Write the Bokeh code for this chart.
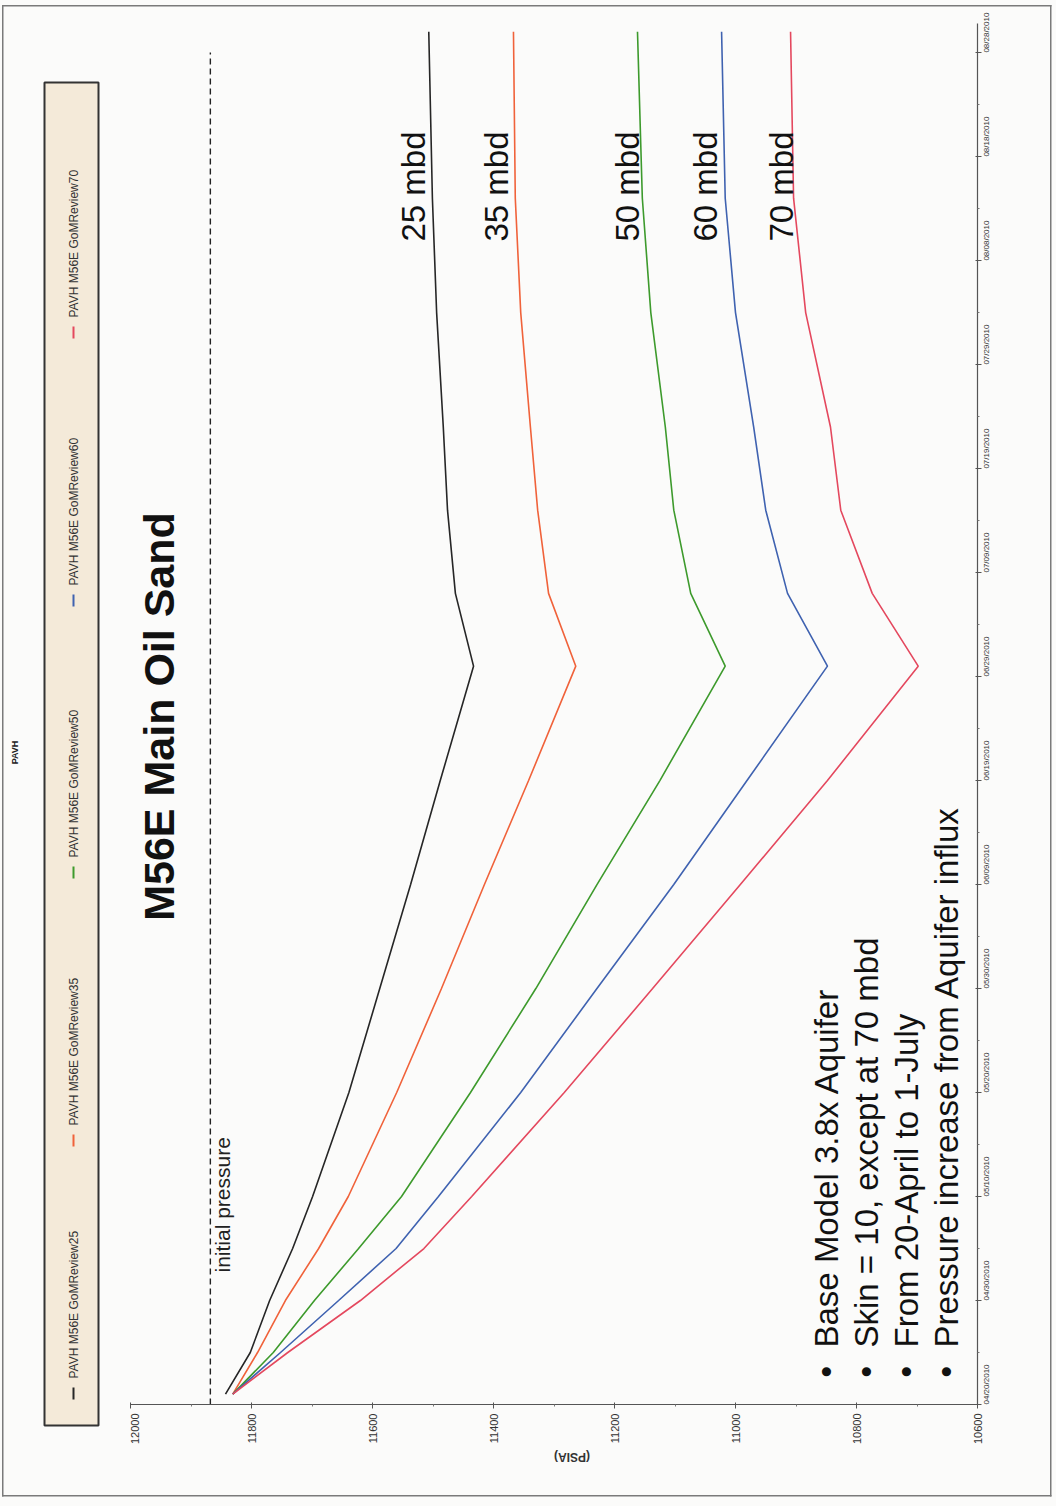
from math import pi
from datetime import datetime
import pandas as pd
from bokeh.plotting import figure
from bokeh.layouts import row
from bokeh.models import (Range1d, FixedTicker, DatetimeTickFormatter, Label)
from bokeh.embed import file_html
from bokeh.resources import INLINE

# ---------------- data ----------------
dates = ["2010-04-21", "2010-04-25", "2010-04-30", "2010-05-05", "2010-05-10",
         "2010-05-20", "2010-05-30", "2010-06-09", "2010-06-19", "2010-06-30",
         "2010-07-07", "2010-07-15", "2010-07-23", "2010-08-03", "2010-08-14",
         "2010-08-30"]
p25 = [11843, 11802, 11770, 11732, 11699, 11639, 11588, 11537, 11488, 11433,
       11463, 11476, 11483, 11494, 11501, 11507]
p35 = [11831, 11790, 11744, 11689, 11640, 11560, 11486, 11415, 11342, 11264,
       11309, 11327, 11339, 11355, 11364, 11367]
p50 = [11831, 11764, 11696, 11623, 11552, 11438, 11330, 11229, 11125, 11017,
       11074, 11102, 11116, 11140, 11154, 11162]
p60 = [11831, 11752, 11656, 11561, 11491, 11355, 11229, 11102, 10981, 10848,
       10914, 10950, 10970, 11000, 11017, 11023]
p70 = [11831, 11740, 11620, 11515, 11436, 11283, 11137, 10992, 10848, 10698,
       10774, 10826, 10843, 10884, 10904, 10909]
series_names = ["PAVH M56E GoMReview25", "PAVH M56E GoMReview35",
                "PAVH M56E GoMReview50", "PAVH M56E GoMReview60",
                "PAVH M56E GoMReview70"]
rate_labels = ["25 mbd", "35 mbd", "50 mbd", "60 mbd", "70 mbd"]
colors = ["#262626", "#f0623a", "#3d9a2c", "#3f62b0", "#e4485e"]

initial_pressure = 11868
initial_dates = ["2010-04-20", "2010-08-28"]

pressure_ticks = [12000, 11800, 11600, 11400, 11200, 11000, 10800, 10600]
pressure_minor = [11900, 11700, 11500, 11300, 11100, 10900, 10700]
date_tick_labels = ["04/20/2010", "04/30/2010", "05/10/2010", "05/20/2010",
                    "05/30/2010", "06/09/2010", "06/19/2010", "06/29/2010",
                    "07/09/2010", "07/19/2010", "07/29/2010", "08/08/2010",
                    "08/18/2010", "08/28/2010"]

bullets = ["Base Model 3.8x Aquifer", "Skin = 10, except at 70 mbd",
           "From 20-April to 1-July", "Pressure increase from Aquifer influx"]
title_text = "M56E Main Oil Sand"
chart_name = "PAVH"
axis_title = "(PSIA)"

FONT = "Liberation Sans"
BG = "#fbfbfa"
EDGE = "#7a7a7a"

# ---------------- main figure ----------------
t0 = datetime(2010, 4, 20)
t1 = datetime(2010, 8, 30, 19, 12)

p = figure(width=926, height=1506,
           x_range=Range1d(12000, 10600), y_range=Range1d(t0, t1),
           y_axis_type="datetime", y_axis_location="right",
           output_backend="svg", toolbar_location=None,
           min_border_left=0, min_border_right=79,
           min_border_top=23, min_border_bottom=102)
p.background_fill_color = BG
p.border_fill_alpha = 0
p.outline_line_color = None
p.xgrid.grid_line_color = None
p.ygrid.grid_line_color = None
g = "linear-gradient(%s,%s)" % (EDGE, EDGE)
p.styles = {"background": (g + " 0px 5px / 921.5px 1.5px no-repeat, "
                           + g + " 920px 5px / 1.5px 1491.5px no-repeat, "
                           + g + " 0px 1495px / 921.5px 1.5px no-repeat, " + BG)}

date_ticks = [(pd.Timestamp(t0) + pd.Timedelta(days=10 * k)).value / 1e6
              for k in range(len(date_tick_labels))]
date_minor = [(pd.Timestamp(t0) + pd.Timedelta(days=10 * k + 5)).value / 1e6
              for k in range(len(date_tick_labels))]

# pressure axis (below)
xa = p.xaxis[0]
xa.ticker = FixedTicker(ticks=pressure_ticks, minor_ticks=pressure_minor)
xa.major_label_orientation = pi / 2
xa.major_label_text_font = FONT
xa.major_label_text_font_size = "11px"
xa.major_label_text_color = "#333333"
xa.major_label_standoff = 5
xa.axis_line_color = "#555555"
xa.axis_line_width = 1.2
xa.major_tick_line_color = "#555555"
xa.major_tick_in = 2
xa.major_tick_out = 4
xa.minor_tick_line_color = "#777777"
xa.minor_tick_in = 0
xa.minor_tick_out = 2
xa.axis_label = axis_title
xa.axis_label_text_font = FONT
xa.axis_label_text_font_size = "12px"
xa.axis_label_text_font_style = "bold"
xa.axis_label_text_color = "#333333"
xa.axis_label_standoff = 10
try:
    xa.axis_label_orientation = pi
except Exception:
    pass

# date axis (right)
ya = p.yaxis[0]
ya.ticker = FixedTicker(ticks=date_ticks, minor_ticks=date_minor)
fmt = "%m/%d/%Y"
ya.formatter = DatetimeTickFormatter(hours=fmt, days=fmt, months=fmt, years=fmt,
                                     hourmin=fmt, minutes=fmt, minsec=fmt,
                                     seconds=fmt, milliseconds=fmt, microseconds=fmt)
ya.major_label_orientation = pi / 2
ya.major_label_text_font = FONT
ya.major_label_text_font_size = "8px"
ya.major_label_text_color = "#333333"
ya.major_label_standoff = 5
ya.axis_line_color = "#555555"
ya.axis_line_width = 1.2
ya.major_tick_line_color = "#555555"
ya.major_tick_in = 2
ya.major_tick_out = 4
ya.minor_tick_line_color = "#777777"
ya.minor_tick_in = 0
ya.minor_tick_out = 2

# lines
dts = pd.to_datetime(dates)
for vals, c in zip([p25, p35, p50, p60, p70], colors):
    p.line(x=vals, y=dts, line_color=c, line_width=1.6)

p.line(x=[initial_pressure, initial_pressure], y=pd.to_datetime(initial_dates),
       line_color="#222222", line_width=1.4, line_dash="6 4")

OX = 130

def clabel(fig, x, y, text, size, angle=pi / 2, align="left", baseline="middle",
           bold=False, color="#111111", units="canvas"):
    fig.add_layout(Label(x=x, y=y, x_units=units, y_units=units, text=text,
                         angle=angle, text_align=align, text_baseline=baseline,
                         text_font=FONT, text_font_size=size,
                         text_font_style="bold" if bold else "normal",
                         text_color=color))

clabel(p, 158 - OX, 716, title_text, "43px", align="center", bold=True)
clabel(p, 222 - OX, 1272, "initial pressure", "21px", color="#222222")

for i, t in enumerate(bullets):
    xb = 826 + 40 * i - OX
    clabel(p, xb, 1377, "\u2022", "33px")
    clabel(p, xb, 1347, t, "33px")

for xb, t in zip([413, 496, 627, 705, 781], rate_labels):
    clabel(p, xb - OX, 131, t, "33px", align="right")

# ---------------- left strip: chart name + rotated legend ----------------
lf = figure(width=130, height=1506, output_backend="svg",
            toolbar_location=None, x_axis_location=None, y_axis_location=None,
            min_border=0)
free = False
try:
    lf.frame_align = False
    p.frame_align = False
    free = True
except Exception:
    free = False
lf.x_range = Range1d(0, 130)
lf.y_range = Range1d(1506, 0) if free else Range1d(1404, 23)
box_bottom = 1425 if free else 1403

lf.background_fill_alpha = 0
lf.border_fill_alpha = 0
lf.outline_line_color = None
lf.xgrid.grid_line_color = None
lf.ygrid.grid_line_color = None
lf.styles = {"background": (g + " 2px 5px / 1.5px 1491.5px no-repeat, "
                            + g + " 2px 5px / 128px 1.5px no-repeat, "
                            + g + " 2px 1495px / 128px 1.5px no-repeat, " + BG)}

lf.quad(left=[44], right=[98], top=[82], bottom=[box_bottom],
        fill_color="#f4ead9", line_color="#333333", line_width=2)
leg_y = [1393, 1140, 872, 600, 332]
lf.segment(x0=[73] * 5, x1=[73] * 5, y0=[v - 6 for v in leg_y],
           y1=[v + 6 for v in leg_y], line_color=colors, line_width=2)
for yc, name in zip(leg_y, series_names):
    clabel(lf, 73, yc - 15, name, "12px", color="#333333", units="data")
clabel(lf, 14, 752, chart_name, "9px", align="center", bold=True,
       color="#222222", units="data")

layout = row(lf, p)

open("out.html", "w").write(file_html(layout, INLINE))
